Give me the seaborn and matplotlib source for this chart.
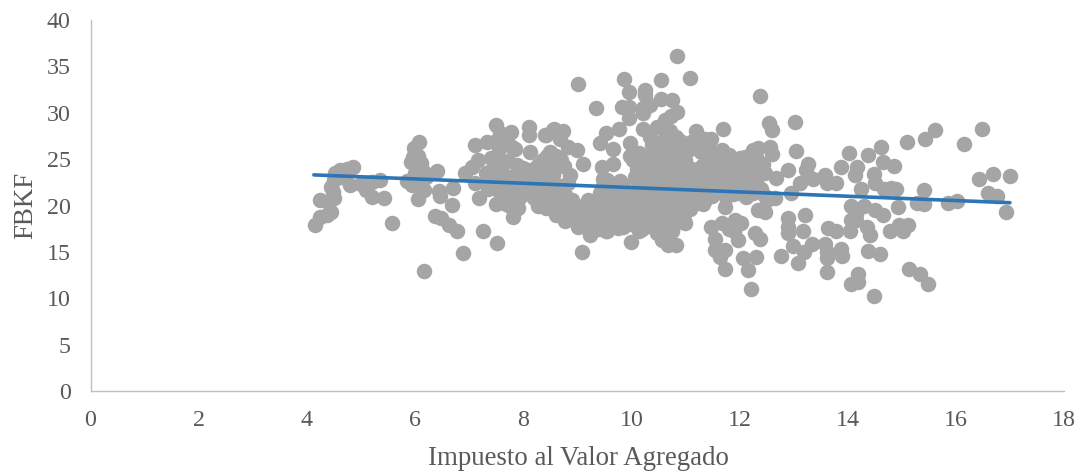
import matplotlib
matplotlib.use("Agg")
import matplotlib.pyplot as plt
import seaborn as sns
import pandas as pd

izq = [(4.15,17.9),(4.25,18.8),(4.38,19),(4.45,19.3),(4.25,20.6),(4.4,20.4),(4.5,20.8),(4.48,21.5),(4.45,22),(4.5,22.7),
(4.52,23.5),(4.62,23.8),(4.75,23.9),(4.86,24.1),(4.8,22.2),(4.65,23.1),(5.0,22.3),(5.1,21.7),(5.2,20.9),(5.35,22.7),(5.2,22.5),
(5.42,20.8),(5.57,18.1),(5.85,22.6),(5.95,22.2),(6.07,26.8),(5.98,26.2),(5.97,25.2),(5.93,24.7),(6.05,25.3),(6.12,24.6),(6.15,23.7),
(6.0,23.5),(6.08,22.9),(6.2,23.1),(6.1,22.1),(6.17,21.7),(6.05,20.7),(6.4,23.7),(6.47,21),(6.45,21.6),(6.7,21.9),(6.68,20.1),
(6.37,18.9),(6.48,18.6),(6.63,17.9),(6.77,17.3),(6.17,12.9),(6.88,14.9),(7.19,20.8),(7.26,17.3),(7.51,16.0),(7.11,26.5),(7.33,26.9),
(7.5,28.7),(7.78,27.95),(8.11,28.5),(8.11,27.6),(7.79,26.3),(8.12,25.8),(8.43,27.6),(8.56,28.1),(8.49,25.8),(7.57,27.8),(7.5,27),
(7.05,24.2),(6.92,23.5),(7.11,22.4),(7.17,24.9),(7.32,23.5),(7.51,25.3),(7.63,24.5),(7.88,24.4),(8.12,23.8),(8.37,24.9),(7.5,20.2),
(7.69,20.2),(7.82,18.8),(7.9,19.7),(8.28,19.9),(8.43,19.7),(7.35,21.8),(7.94,21.1),(7.62,26.6),(7.55,26.1),(7.7,27),(7.85,26.1)]

denso_a = [(7.4,25.1),(7.45,24),(7.5,22.9),(7.55,21.6),(7.62,23.4),(7.68,22.2),(7.72,24.8),(7.75,21.1),(7.8,23.1),(7.85,22.3),
(7.9,23.7),(7.95,20.9),(8.0,24),(8.05,22.6),(8.1,21.3),(8.15,23),(8.25,21.9),(8.3,23.5),(8.35,20.7),(8.4,22.5),(8.45,24.2),(8.5,21.2),
(8.55,23.3),(8.6,25.3),(8.65,20.4),(8.7,22.1),(8.75,24.3),(8.8,19.3),(8.77,21.1),(8.86,23.3),(8.57,28.3),(8.41,27.6),(8.74,28),
(8.69,27.2),(8.99,26),(8.83,26.3),(8.7,24.9),(9.11,24.5),(8.63,24.2),(8.44,25.3),(8.77,18.3),(9.02,17.7),
(8.68,19.5),(8.74,18.8),(8.95,19.9),(8.9,18.6),(8.6,19)]

denso_b = [(9.05,19.2),(9.1,18.2),(9.15,20.1),(9.2,19),(9.23,17),(9.3,20.4),(9.35,18.6),(9.42,21.3),(9.45,19.6),(9.5,18.1),(9.55,21),
(9.6,19.2),(9.65,20.6),(9.7,18.5),(9.75,21.7),(9.8,19.8),(9.85,22.2),(9.9,18.8),(9.95,20.9),(10.0,19.4),(10.05,21.6),(10.1,18.3),(10.12,22.7),
(10.18,20.1),(10.25,23.9),(10.25,19),(10.28,21.3),(10.32,25.2),(10.35,22.4),(10.38,18.1),(10.42,24.4),(10.45,20.5),(10.48,26.3),(10.5,19.3),
(10.53,22.9),(10.58,25),(10.6,17.9),(10.62,21.2),(10.65,24),(10.68,26.4),(10.7,19.9),(10.72,23),(10.75,18.6),(10.78,25.5),(10.8,21.7),
(10.83,20.2),(10.85,24.4),(10.88,22.6),(10.9,19.2),(10.92,26),(10.95,23.6),(10.98,21),(11.0,24.9),(11.03,20.1),(11.05,22.3),
(11.12,23.9),(11.15,21.5),(11.3,24.3),(11.25,22.8),(11.28,25.8),(11.3,20.9),(11.35,23.5),(11.4,21.9),(11.42,25),(11.48,24),(11.52,22.4),
(11.55,23.3),(11.6,25.2),(11.65,21.6),(11.7,24.2),(11.72,22.7),(11.78,23.6),(11.82,25),(11.88,22.1),(11.9,24.1),(11.95,23.1),(12.0,21.3),
(12.02,24.7),(12.08,22.5),(12.12,23.8),(12.18,21.9),(12.22,24.8),(12.28,23),(12.32,22.2),(9.2,20.6),(9.35,20),
(9.5,20.1),(9.72,19.8),(10.0,18),(10.15,17.3),(10.3,17.8),(10.47,17),(10.55,18.7),(10.75,17.5),(10.85,18.2),(10.35,20.3),(10.6,20.6),
(10.15,19.4),(9.85,20.4),(9.62,18),(9.4,17.5),(9.78,18.2),(9.05,18.1),(9.28,18.9),(9.54,17.2),(10.22,21.2),(10.42,22),(10.52,21),(10.68,19),
(10.8,23.4),(10.95,20.4),(11.1,21),(11.22,20.3),(11.36,20.6),(11.5,21),(11.75,20.9),(11.95,21.4),(12.12,20.9),(10.04,24.9),(10.15,25.7),
(10.28,24.9),(10.38,26.5),(10.6,27.1),(10.72,28),(10.55,23.6),(10.9,27),(9.97,25.3)]

relleno = [(7.42,22.2),(7.6,20.9),(7.75,19.9),(7.98,22.1),(8.2,20.8),(8.22,22.7),(8.28,24.4),(8.52,22.4),(8.58,20.1),
(8.82,22.4),(8.9,20.6),(9.12,19.4),(9.45,21.9),(9.6,22.2),(9.7,20.9),
(9.55,22.7),(9.3,19.5),(9.18,18.1),(9.9,19.9),(9.92,21.5),(10.08,20.5),(10.1,23.9),(10.18,22),(10.18,24.5),(10.3,20),(10.42,19.2),(10.45,25.6),
(10.45,23),(10.58,22.2),(10.62,19.6),(10.68,22),(10.72,24.8),(10.75,20.8),(10.88,21.1),(10.9,23.2),(10.9,25.2),(11,22.9),(11.02,24.2),(11.08,19.6),
(11.08,26.1),(11.2,22),(11.2,23.4),(11.38,22.6),(11.4,24.6),(11.45,26),(11.5,23),(11.6,24.1),(11.65,22.6),(11.68,23.5),(11.82,22.4),(11.85,24.4),
(11.88,21.2),(12.05,23.5),(12.1,25.2),(12.15,24.4),(12.2,23.2),(12.3,25.2),(12.35,24),(12.4,21.8),(12.25,21.4),(10.12,18.8),(10.28,18.6),(10.4,18.7),
(10.48,17.9),(10.62,18.2),(10.88,19.6),(9.95,18.4),(9.75,17.6),(9.68,19.4)]

sup = [(10.85,36.1),(11.08,33.7),(9.02,33.1),(9.86,33.6),(10.55,33.5),(9.95,32.2),(10.26,32.4),(10.25,31.9),(12.37,31.8),(9.34,30.5),
(9.82,30.6),(9.96,30.6),(9.96,29.4),(10.22,30.5),(10.34,30.8),(10.54,31.5),(10.76,31.4),(10.85,30.1),(10.73,29.6),(10.63,29.2),(10.22,30),
(12.54,28.85),(12.61,28.1),(13.03,29),(11.7,28.3),(9.77,28.3),(9.54,27.8),(9.42,26.7),(9.66,26.1),(9.66,24.5),(9.45,24.2),(9.48,22.9),
(9.97,26.7),(9.79,22.6),(10.07,23.1),(10.22,28.3),(10.34,27.4),(10.47,28.5),(10.6,28.3),(10.82,27.4),(11.2,28),(11.48,27.2),(11.36,27.2),
(11.11,26.9),(11.23,26.3),(11.68,26),(11.81,25.4),(12,25.1),(12.25,26),(12.34,26.2),(12.57,26.3),(12.6,25.6),(12.43,24.5),(12.47,23.5),(12.31,22.4)]

der = [(13.04,25.9),(12.68,23),(12.9,23.8),(13.27,24.5),(13.23,23.8),(13.36,22.9),(13.58,23.3),(13.61,22.4),(13.79,22.4),(13.87,24.1),
(14.03,25.7),(14.17,24.2),(14.13,23.3),(14.38,25.4),(14.61,26.3),(14.66,24.7),(14.85,24.3),(14.49,23.4),(14.5,22.4),(14.25,21.8),(14.67,21.8),
(14.9,21.8),(14.8,21.9),(15.1,26.9),(15.43,27.2),(15.62,28.1),(16.15,26.6),(16.48,28.2),(16.42,22.9),(16.69,23.4),(17,23.2),(16.6,21.3),
(16.76,21),(16.92,19.3),(15.41,21.7),(15.28,20.3),(15.41,20.2),(15.85,20.3),(16.02,20.5),(14.93,19.8),(14.66,19),(14.5,19.5),(14.07,19.9),
(14.3,19.9),(14.15,19.1),(14.07,18.4),(14.16,18.4),(14.41,16.8),(14.35,17.7),(14.78,17.3),(15.02,17.2),(15.12,17.9),(14.95,17.9),(14.6,14.8),
(14.37,15.1),(13.9,14.6),(13.88,15.3),(13.61,12.8),(13.61,14.3),(13.61,15),(13.59,15.9),(13.34,15.9),(13.2,15),(13.09,13.8),(12.99,15.6),
(12.76,14.6),(13.79,17.2),(13.64,17.6),(14.04,17.3),(13.18,17.3),(12.9,17),(12.9,18.6),(12.9,17.7),(13.21,19),(14.19,12.6),(14.19,11.8),
(14.07,11.5),(14.49,10.2),(15.13,13.1),(15.33,12.6),(15.49,11.5),(12.22,11),(12.15,13),(11.74,13.2),(12.31,14.4),(12.06,14.3),(11.64,14.5),
(11.55,15.2),(11.74,15.2),(11.54,16.4),(11.48,17.7),(11.67,18.1),(11.91,18.4),(12.02,18.1),(11.8,17.5),(11.98,16.3),(12.28,17),(12.37,16.4),
(11.9,17.2),(12.34,19.5),(12.47,19.3),(11.73,19.8),(11.33,20.2),(10.82,15.7),(10.67,15.7),(10.57,16.3),(9.99,16.1),(9.09,15),(9.24,16.8),
(9.55,17.2),(9.85,17.7),(10.19,17.5),(10.47,17.2),(10.76,17.2),(10.99,18.1),(10.98,18.4),
(12.65,20.8),(12.96,21.3),(12.47,21),(13.12,22.4),(12.5,20.6)]

tendencia_x = [4.13, 17.0]
tendencia_y = [23.3, 20.3]
x_ticks = list(range(0, 19, 2))
y_ticks = list(range(0, 41, 5))

puntos = pd.DataFrame(izq + denso_a + denso_b + relleno + sup + der, columns=["iva", "fbkf"])

sns.set_theme(style="white")
plt.rcParams["font.family"] = ["Liberation Serif", "DejaVu Serif"]
fig = plt.figure(figsize=(10.88, 4.76), dpi=100, facecolor="white")
ax = fig.add_axes([90.5/1088, (476-391)/476, (1064-90.5)/1088, 371/476])
sns.scatterplot(data=puntos, x="iva", y="fbkf", ax=ax, color="#A5A5A5", s=125, linewidth=0, alpha=1, zorder=2, clip_on=False)
sns.lineplot(x=tendencia_x, y=tendencia_y, ax=ax, color="#2E75B6", linewidth=2.6, zorder=3, errorbar=None)
ax.set_xlim(0, 18)
ax.set_ylim(0, 40)
ax.set_xticks(x_ticks)
ax.set_yticks(y_ticks)
ax.tick_params(axis="x", length=0, labelsize=17.3, labelcolor="#595959", pad=13.5)
ax.tick_params(axis="y", length=0, labelsize=17.3, labelcolor="#595959", pad=14.4)
for s in ("top", "right"):
    ax.spines[s].set_visible(False)
for s in ("left", "bottom"):
    ax.spines[s].set_color("#BFBFBF")
    ax.spines[s].set_linewidth(1.0)
ax.set_xlabel("Impuesto al Valor Agregado", fontsize=19.4, color="#595959")
ax.set_ylabel("FBKF", fontsize=19.4, color="#595959")
ax.xaxis.set_label_coords(0.5008, -0.148)
ax.yaxis.set_label_coords(-0.054, 0.5)
fig.savefig("out.png", dpi=100)
